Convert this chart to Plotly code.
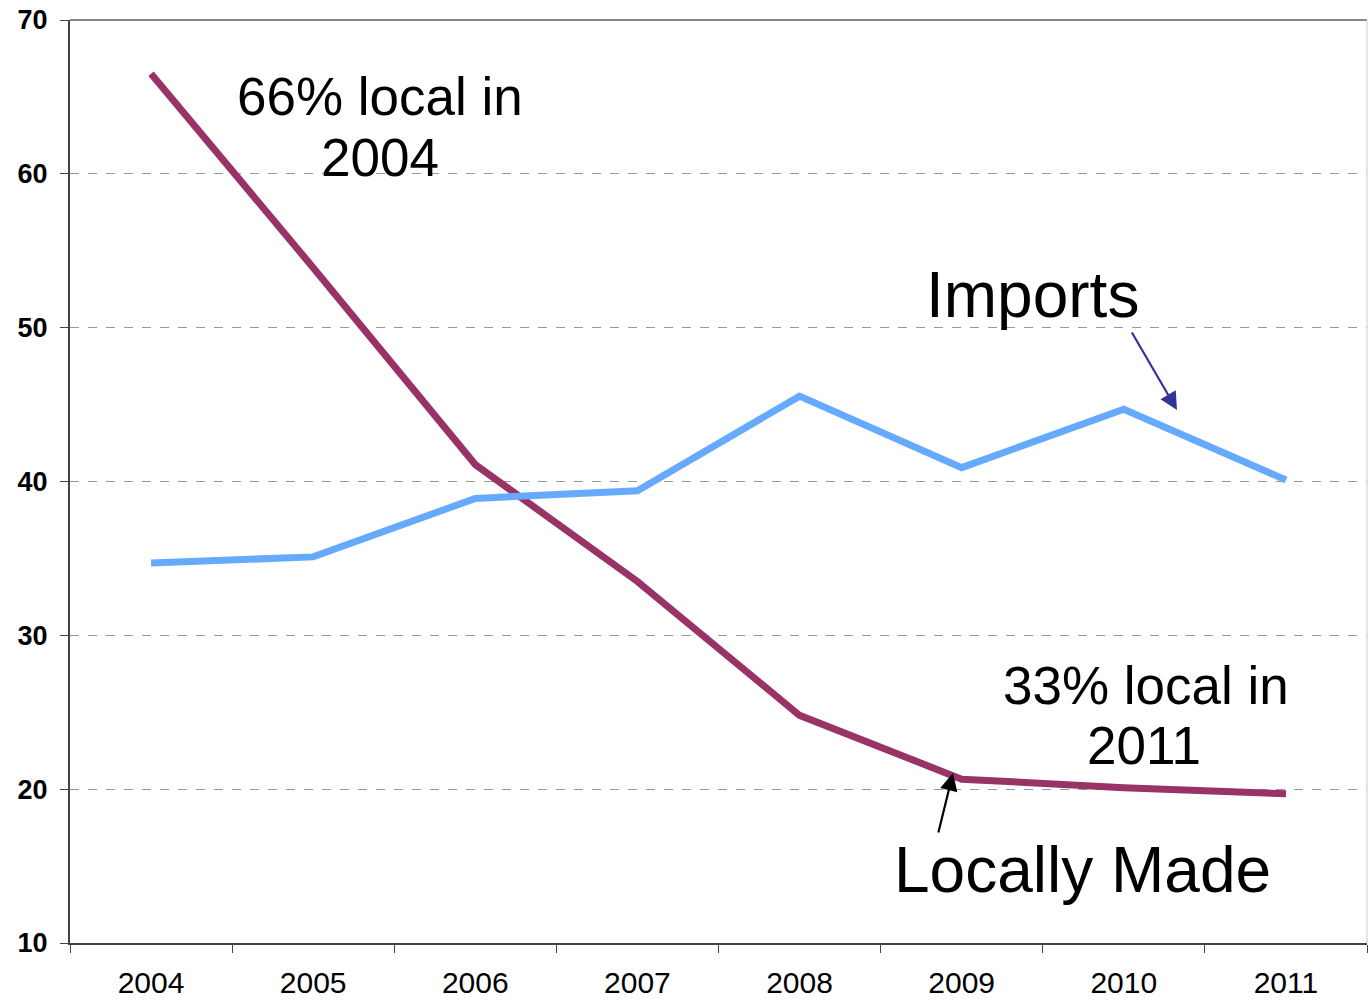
import plotly.graph_objects as go

years = ["2004", "2005", "2006", "2007", "2008", "2009", "2010", "2011"]
locally_made = [66.5, 53.9, 41.1, 33.5, 24.8, 20.65, 20.1, 19.7]
imports = [34.7, 35.1, 38.9, 39.4, 45.55, 40.9, 44.7, 40.1]
y_ticks = [10, 20, 30, 40, 50, 60, 70]

W, H = 1368, 1001
L, R, T, B = 70, 1, 20, 58
pw, ph = W - L - R, H - T - B

def px(x):  # page pixel -> paper
    return (x - L) / pw

def py(y):
    return (T + ph - y) / ph

FONT = "Arial, Liberation Sans, sans-serif"

fig = go.Figure()
fig.add_trace(go.Scatter(x=years, y=locally_made, mode="lines",
                         line=dict(color="#993366", width=7), name="Locally Made"))
fig.add_trace(go.Scatter(x=years, y=imports, mode="lines",
                         line=dict(color="#66AAFF", width=7), name="Imports"))

texts = [
    ("66% local in", 380, 97, 53),
    ("2004", 380, 158, 53),
    ("Imports", 1032, 295, 64),
    ("33% local in", 1146, 685, 53),
    ("2011", 1144, 745, 53),
    ("Locally Made", 1082, 870, 64),
]
for t, x, y, s in texts:
    fig.add_annotation(x=px(x), y=py(y), xref="paper", yref="paper", text=t,
                       showarrow=False, font=dict(family=FONT, size=s, color="black"),
                       xanchor="center", yanchor="middle")

# arrows
fig.add_annotation(x=px(1177), y=py(410), xref="paper", yref="paper", text="",
                   showarrow=True, arrowhead=2, arrowsize=1.6, arrowwidth=2.2,
                   arrowcolor="#333399", ax=-46, ay=-79)
fig.add_annotation(x=px(953), y=py(773), xref="paper", yref="paper", text="",
                   showarrow=True, arrowhead=2, arrowsize=1.6, arrowwidth=2.2,
                   arrowcolor="black", ax=-15, ay=61)

# top and right border
fig.add_shape(type="line", xref="paper", yref="paper", x0=0, x1=1, y0=1, y1=1,
              line=dict(color="#888888", width=2))
fig.add_shape(type="line", xref="paper", yref="paper", x0=1, x1=1, y0=0, y1=1,
              line=dict(color="#cccccc", width=1))

fig.update_xaxes(type="category", range=[-0.5, 7.5], showgrid=False,
                 showline=True, linecolor="#444444", linewidth=2,
                 ticks="outside", tickson="boundaries", ticklen=8, tickcolor="#444444",
                 ticklabelstandoff=12,
                 tickfont=dict(family=FONT, size=30, color="black"))
fig.update_yaxes(range=[10, 70], tickvals=y_ticks, showgrid=True,
                 gridcolor="#999999", griddash="dash", gridwidth=1,
                 showline=True, linecolor="#444444", linewidth=2,
                 ticks="outside", ticklen=8, tickcolor="#444444", zeroline=False,
                 ticklabelstandoff=7, automargin=False, ticklabeloverflow="allow",
                 tickfont=dict(family=FONT, size=27, color="black", weight="bold"))

fig.update_layout(width=W, height=H, margin=dict(l=L, r=R, t=T, b=B),
                  plot_bgcolor="white", paper_bgcolor="white", showlegend=False)

fig.write_html("out.html", config={"displayModeBar": False},
               post_script="document.body.style.margin='0px';document.body.style.overflow='hidden';")
